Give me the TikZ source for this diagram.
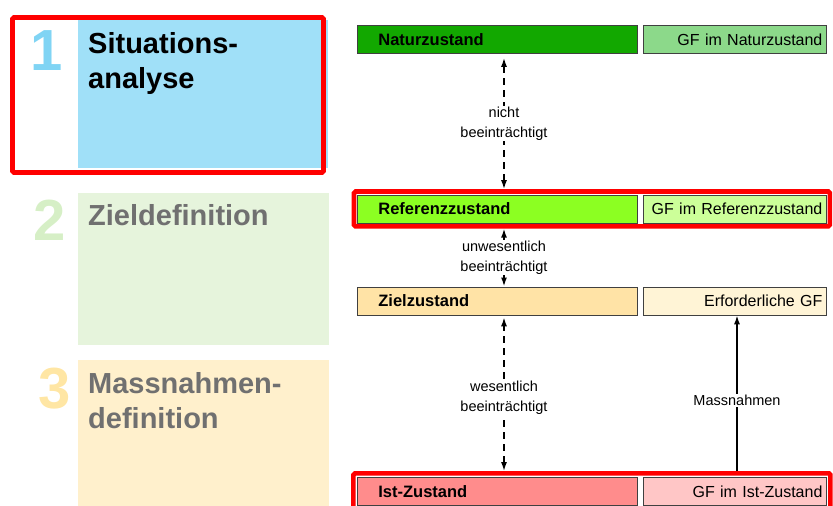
\documentclass[tikz,border=0pt]{standalone}
\usepackage{fontspec}
\setmainfont{Liberation Sans}
\usetikzlibrary{arrows.meta,fit}
\definecolor{pblue}{HTML}{A0E0F8}
\definecolor{nblue}{HTML}{80D4F4}
\definecolor{pgreen}{HTML}{E6F4DC}
\definecolor{ngreen}{HTML}{D6EFC6}
\definecolor{pyellow}{HTML}{FFF0CC}
\definecolor{nyellow}{HTML}{FFE6A4}
\definecolor{graytxt}{HTML}{707070}
\definecolor{natc}{HTML}{12A800}
\definecolor{natgfc}{HTML}{8CD98A}
\definecolor{refc}{HTML}{8CFF22}
\definecolor{refgfc}{HTML}{CCFF99}
\definecolor{zielc}{HTML}{FFE3A6}
\definecolor{zielgfc}{HTML}{FFF4D6}
\definecolor{istc}{HTML}{FF8C8C}
\definecolor{istgfc}{HTML}{FFC6C6}
\definecolor{bordc}{HTML}{404040}
\newcommand{\titlefont}{\fontsize{29}{35}\selectfont\bfseries}
\newcommand{\numfont}{\fontsize{58}{58}\selectfont\bfseries}
\newcommand{\boxbf}{\fontsize{16.5}{19}\selectfont\bfseries}
\newcommand{\boxrg}{\fontsize{16}{19}\selectfont}
\newcommand{\labfont}{\fontsize{14.5}{20}\selectfont}
\begin{document}
\begin{tikzpicture}[x=1pt,y=-1pt,
  panel/.style={draw=none, anchor=north west, inner sep=0pt},
  title/.style={anchor=base west, inner sep=0pt, align=left, font=\titlefont},
  num/.style={anchor=base, inner sep=0pt, font=\numfont},
  lbox/.style={draw=bordc, line width=0.8pt, anchor=north west, minimum height=28pt,
    inner xsep=0pt, inner ysep=0pt, text width=280pt, align=left, font=\boxbf},
  rbox/.style={draw=bordc, line width=0.8pt, anchor=north west, minimum height=28pt,
    inner xsep=4pt, inner ysep=0pt, text width=175pt, align=right, font=\boxrg},
  redframe/.style={draw=red, line width=4.6pt, rounded corners=1.5pt},
  lab/.style={fill=white, inner xsep=1pt, inner ysep=1pt, align=center, font=\labfont},
  dasharr/.style={line width=1.6pt, dash pattern=on 7pt off 5pt,
    {Latex[length=9pt,width=6pt]}-{Latex[length=9pt,width=6pt]}},
  solarr/.style={line width=1.6pt, -{Latex[length=9pt,width=6pt]}}
]
\useasboundingbox (0,0) rectangle (833,506);
\begin{scope}
\clip (0,0) rectangle (833,506);
% left panels
\node[panel, fill=pblue, minimum width=250pt, minimum height=148pt] (p1) at (78,20) {};
\node[panel, fill=pgreen, minimum width=251pt, minimum height=152pt] (p2) at (78,193) {};
\node[panel, fill=pyellow, minimum width=251pt, minimum height=147pt] (p3) at (78,360) {};
\node[num, text=nblue] (n1) at (47,70) {1};
\node[num, text=ngreen] (n2) at (49.5,240) {2};
\node[num, text=nyellow] (n3) at (54.5,408) {3};
\node[title] (t1) at (88,88) {Situations-\\analyse};
\node[title, text=graytxt] (t2) at (88,225) {Zieldefinition};
\node[title, text=graytxt] (t3) at (88,428) {Massnahmen-\\definition};
\draw[redframe] (12.5,17.5) rectangle (323.5,172.5);

% right boxes
\node[lbox, fill=natc] (nat) at (357,25) {\hspace*{21pt}Naturzustand};
\node[rbox, fill=natgfc] (natgf) at (643,25) {GF im Naturzustand};
\node[lbox, fill=refc] (ref) at (357,194.5) {\hspace*{21pt}Referenzzustand};
\node[rbox, fill=refgfc] (refgf) at (643,194.5) {GF im Referenzzustand};
\node[lbox, fill=zielc] (ziel) at (357,286.5) {\hspace*{21pt}Zielzustand};
\node[rbox, fill=zielgfc] (zielgf) at (643,286.5) {Erforderliche GF};
\node[lbox, fill=istc] (ist) at (357,477) {\hspace*{21pt}Ist-Zustand};
\node[rbox, fill=istgfc] (istgf) at (643,477) {GF im Ist-Zustand};

\node[redframe, fit=(ref)(refgf), inner sep=3pt] (reffr) {};
\node[redframe, fit=(ist)(istgf), inner xsep=3.6pt, inner ysep=3.6pt] (istfr) {};

\coordinate (xa) at (504,0);
\coordinate (xb) at (737,0);

\draw[dasharr] ([yshift=-4pt]nat.south -| xa) -- (reffr.north -| xa)
  node[lab, midway] (l1) {nicht\\beeinträchtigt};
\draw[dasharr] (reffr.south -| xa) -- (ziel.north -| xa)
  node[lab, midway] (l2) {unwesentlich\\beeinträchtigt};
\draw[dasharr] (istfr.north -| xa) -- ([yshift=-2pt]ziel.south -| xa)
  node[lab, pos=0.48] (l3) {wesentlich\\beeinträchtigt};
\draw[solarr] (istfr.north -| xb) -- (zielgf.south -| xb)
  node[lab, pos=0.455] (l4) {Massnahmen};
\end{scope}
\end{tikzpicture}
\end{document}
